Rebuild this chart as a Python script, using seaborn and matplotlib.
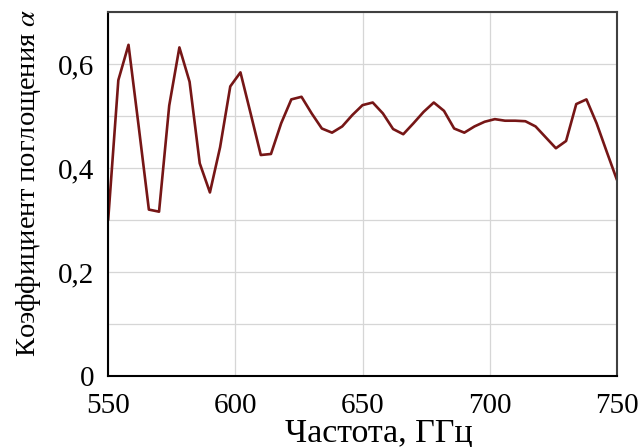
import numpy as np
import pandas as pd
import matplotlib
matplotlib.use("Agg")
import matplotlib.pyplot as plt
from matplotlib.ticker import MultipleLocator, FuncFormatter
import seaborn as sns

# Data
frequency = [550, 554, 558, 562, 566, 570, 574, 578, 582, 586,
             590, 594, 598, 602, 606, 610, 614, 618, 622, 626,
             630, 634, 638, 642, 646, 650, 654, 658, 662, 666,
             670, 674, 678, 682, 686, 690, 694, 698, 702, 706,
             710, 714, 718, 722, 726, 730, 734, 738, 742, 746, 750]
absorption = [0.300, 0.569, 0.637, 0.480, 0.320, 0.316, 0.520, 0.632, 0.566, 0.409,
              0.353, 0.440, 0.557, 0.584, 0.505, 0.425, 0.427, 0.486, 0.532, 0.537,
              0.505, 0.476, 0.468, 0.480, 0.502, 0.521, 0.526, 0.505, 0.475, 0.465,
              0.486, 0.508, 0.526, 0.510, 0.476, 0.468, 0.480, 0.489, 0.494, 0.491,
              0.491, 0.490, 0.480, 0.459, 0.438, 0.452, 0.523, 0.532, 0.486, 0.431, 0.377]
x_ticks = [550, 600, 650, 700, 750]
y_ticks = [0, 0.2, 0.4, 0.6]

df = pd.DataFrame({"f": frequency, "a": absorption})

sns.set_theme(style="whitegrid")
plt.rcParams["font.family"] = ["Liberation Serif", "DejaVu Serif"]
plt.rcParams["mathtext.fontset"] = "stix"

fig = plt.figure(figsize=(6.4, 4.47), dpi=100)
ax = fig.add_axes([0.169, 0.159, 0.795, 0.814])

sns.lineplot(data=df, x="f", y="a", ax=ax, color="#761616", linewidth=1.9)

ax.set_xlim(550, 750)
ax.set_ylim(0, 0.7)
ax.set_xticks(x_ticks)
ax.set_yticks(y_ticks)
ax.yaxis.set_minor_locator(MultipleLocator(0.1))
ax.yaxis.set_major_formatter(FuncFormatter(lambda v, p: "0" if abs(v) < 1e-9 else f"{v:.1f}".replace(".", ",")))
ax.grid(True, which="both", color="#d6d6d6", linewidth=0.9)
ax.tick_params(axis="both", which="both", length=0, labelsize=21, colors="black")
ax.tick_params(axis="x", pad=12)
ax.tick_params(axis="y", pad=10)

ax.set_xlabel("Частота, ГГц", fontsize=24.5, color="black")
ax.set_ylabel("Коэффициент поглощения $\\alpha$", fontsize=20.5, color="black")
ax.xaxis.set_label_coords(0.532, -0.115)
ax.yaxis.set_label_coords(-0.128, 0.53)

for side in ["left", "bottom"]:
    ax.spines[side].set_color("black")
    ax.spines[side].set_linewidth(1.5)
for side in ["top", "right"]:
    ax.spines[side].set_color("#404040")
    ax.spines[side].set_linewidth(1.5)

fig.savefig("out.png", dpi=100, facecolor="white")
